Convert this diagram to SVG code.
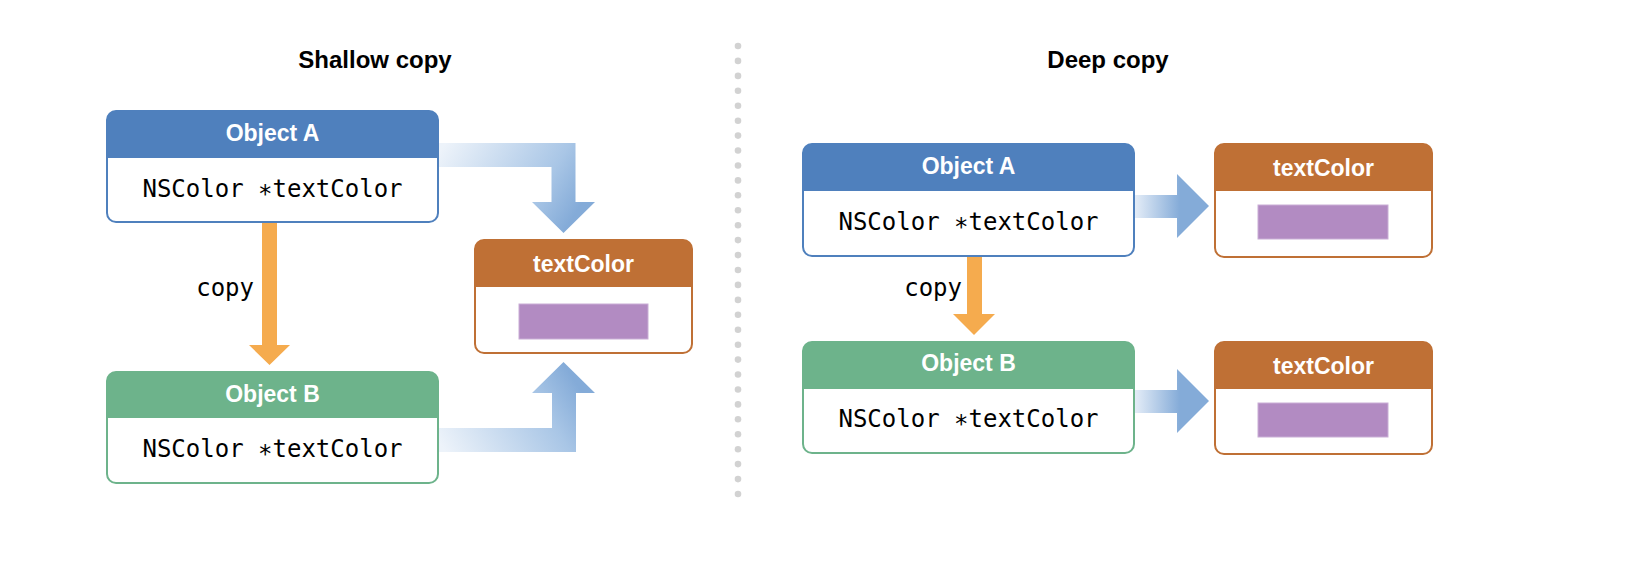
<svg xmlns="http://www.w3.org/2000/svg" width="1646" height="574" viewBox="0 0 1646 574">
<style>
.title{font-family:"Liberation Sans",Arial,sans-serif;font-weight:bold;font-size:24px;fill:#000;text-anchor:middle}
.hdr{font-family:"Liberation Sans",Arial,sans-serif;font-weight:bold;font-size:23px;fill:#fff;text-anchor:middle}
.code{font-family:"DejaVu Sans Mono","Liberation Mono",monospace;font-size:24px;fill:#000;text-anchor:middle}
.lbl{font-family:"DejaVu Sans Mono","Liberation Mono",monospace;font-size:24px;fill:#000;text-anchor:end}
.box{fill:#fff;stroke-width:2}
.blue{fill:#4f80bd}.blueS{stroke:#4f80bd}
.green{fill:#6db38b}.greenS{stroke:#6db38b}
.brown{fill:#bf7035}.brownS{stroke:#bf7035}
.swatch{fill:#b28bc2;stroke:#c9aed6;stroke-width:1}
.orange{fill:#f5ab4e}
.dot{fill:#d2d2d2}
</style>
<defs>
<linearGradient id="gTL" gradientUnits="userSpaceOnUse" x1="438" y1="155" x2="563" y2="233">
<stop offset="0" stop-color="#edf3fa"/><stop offset="0.72" stop-color="#a9c6e6"/><stop offset="1" stop-color="#84abd8"/>
</linearGradient>
<linearGradient id="gBL" gradientUnits="userSpaceOnUse" x1="438" y1="440" x2="563" y2="362">
<stop offset="0" stop-color="#edf3fa"/><stop offset="0.72" stop-color="#a9c6e6"/><stop offset="1" stop-color="#84abd8"/>
</linearGradient>
<linearGradient id="gR1" gradientUnits="userSpaceOnUse" x1="1134" y1="0" x2="1180" y2="0">
<stop offset="0" stop-color="#e6eef8"/><stop offset="1" stop-color="#84abd8"/>
</linearGradient>
</defs>
<rect width="1646" height="574" fill="#fff"/>

<text class="title" x="375" y="68">Shallow copy</text>
<text class="title" x="1108" y="68">Deep copy</text>

<g id="divider">
<circle class="dot" cx="738" cy="46" r="3.3"/><circle class="dot" cx="738" cy="60.9" r="3.3"/><circle class="dot" cx="738" cy="75.9" r="3.3"/><circle class="dot" cx="738" cy="90.8" r="3.3"/><circle class="dot" cx="738" cy="105.7" r="3.3"/><circle class="dot" cx="738" cy="120.7" r="3.3"/><circle class="dot" cx="738" cy="135.6" r="3.3"/><circle class="dot" cx="738" cy="150.5" r="3.3"/><circle class="dot" cx="738" cy="165.5" r="3.3"/><circle class="dot" cx="738" cy="180.4" r="3.3"/><circle class="dot" cx="738" cy="195.3" r="3.3"/><circle class="dot" cx="738" cy="210.3" r="3.3"/><circle class="dot" cx="738" cy="225.2" r="3.3"/><circle class="dot" cx="738" cy="240.1" r="3.3"/><circle class="dot" cx="738" cy="255.1" r="3.3"/><circle class="dot" cx="738" cy="270" r="3.3"/><circle class="dot" cx="738" cy="284.9" r="3.3"/><circle class="dot" cx="738" cy="299.9" r="3.3"/><circle class="dot" cx="738" cy="314.8" r="3.3"/><circle class="dot" cx="738" cy="329.7" r="3.3"/><circle class="dot" cx="738" cy="344.7" r="3.3"/><circle class="dot" cx="738" cy="359.6" r="3.3"/><circle class="dot" cx="738" cy="374.5" r="3.3"/><circle class="dot" cx="738" cy="389.5" r="3.3"/><circle class="dot" cx="738" cy="404.4" r="3.3"/><circle class="dot" cx="738" cy="419.3" r="3.3"/><circle class="dot" cx="738" cy="434.3" r="3.3"/><circle class="dot" cx="738" cy="449.2" r="3.3"/><circle class="dot" cx="738" cy="464.1" r="3.3"/><circle class="dot" cx="738" cy="479.1" r="3.3"/><circle class="dot" cx="738" cy="494" r="3.3"/>
</g>

<g id="connectors">
<path d="M438 143 H575.5 V202 H595 L563.5 233 L532 202 H551.5 V167 H438 Z" fill="url(#gTL)"/>
<path d="M438 452 H576 V393 H595 L563.5 362 L532 393 H552 V428 H438 Z" fill="url(#gBL)"/>
<path class="orange" d="M262 222 H277 V345 H290 L269.5 365 L249 345 H262 Z"/>
<text class="lbl" x="254" y="296">copy</text>
<path class="orange" d="M967 256 H982 V314 H995 L974 335 L953 314 H967 Z"/>
<text class="lbl" x="962" y="296">copy</text>
<path d="M1134 195 H1177 V174 L1209 206 L1177 238 V218 H1134 Z" fill="url(#gR1)"/>
<path d="M1134 390 H1177 V369 L1209 401 L1177 433 V413 H1134 Z" fill="url(#gR1)"/>
</g>

<g id="shallowObjectA">
<rect class="box blueS" x="107" y="111" width="331" height="111" rx="9"/>
<path class="blue" d="M107 158 V120 A9 9 0 0 1 116 111 H429 A9 9 0 0 1 438 120 V158 Z"/>
<text class="hdr" x="272.5" y="141">Object A</text>
<text class="code" x="272.5" y="197">NSColor <tspan dy="5">*</tspan><tspan dy="-5">textColor</tspan></text>
</g>

<g id="shallowObjectB">
<rect class="box greenS" x="107" y="372" width="331" height="111" rx="9"/>
<path class="green" d="M107 418 V381 A9 9 0 0 1 116 372 H429 A9 9 0 0 1 438 381 V418 Z"/>
<text class="hdr" x="272.5" y="402">Object B</text>
<text class="code" x="272.5" y="457">NSColor <tspan dy="5">*</tspan><tspan dy="-5">textColor</tspan></text>
</g>

<g id="shallowTextColor">
<rect class="box brownS" x="475" y="240" width="217" height="113" rx="9"/>
<path class="brown" d="M475 287 V249 A9 9 0 0 1 484 240 H683 A9 9 0 0 1 692 249 V287 Z"/>
<text class="hdr" x="583.5" y="272">textColor</text>
<rect class="swatch" x="519" y="304" width="129" height="35"/>
</g>

<g id="deepObjectA">
<rect class="box blueS" x="803" y="144" width="331" height="112" rx="9"/>
<path class="blue" d="M803 191 V153 A9 9 0 0 1 812 144 H1125 A9 9 0 0 1 1134 153 V191 Z"/>
<text class="hdr" x="968.5" y="174">Object A</text>
<text class="code" x="968.5" y="230">NSColor <tspan dy="5">*</tspan><tspan dy="-5">textColor</tspan></text>
</g>

<g id="deepObjectB">
<rect class="box greenS" x="803" y="342" width="331" height="111" rx="9"/>
<path class="green" d="M803 389 V351 A9 9 0 0 1 812 342 H1125 A9 9 0 0 1 1134 351 V389 Z"/>
<text class="hdr" x="968.5" y="371">Object B</text>
<text class="code" x="968.5" y="427">NSColor <tspan dy="5">*</tspan><tspan dy="-5">textColor</tspan></text>
</g>

<g id="deepTextColorA">
<rect class="box brownS" x="1215" y="144" width="217" height="113" rx="9"/>
<path class="brown" d="M1215 191 V153 A9 9 0 0 1 1224 144 H1423 A9 9 0 0 1 1432 153 V191 Z"/>
<text class="hdr" x="1323.5" y="176">textColor</text>
<rect class="swatch" x="1258" y="205" width="130" height="34"/>
</g>

<g id="deepTextColorB">
<rect class="box brownS" x="1215" y="342" width="217" height="112" rx="9"/>
<path class="brown" d="M1215 389 V351 A9 9 0 0 1 1224 342 H1423 A9 9 0 0 1 1432 351 V389 Z"/>
<text class="hdr" x="1323.5" y="374">textColor</text>
<rect class="swatch" x="1258" y="403" width="130" height="34"/>
</g>
</svg>
